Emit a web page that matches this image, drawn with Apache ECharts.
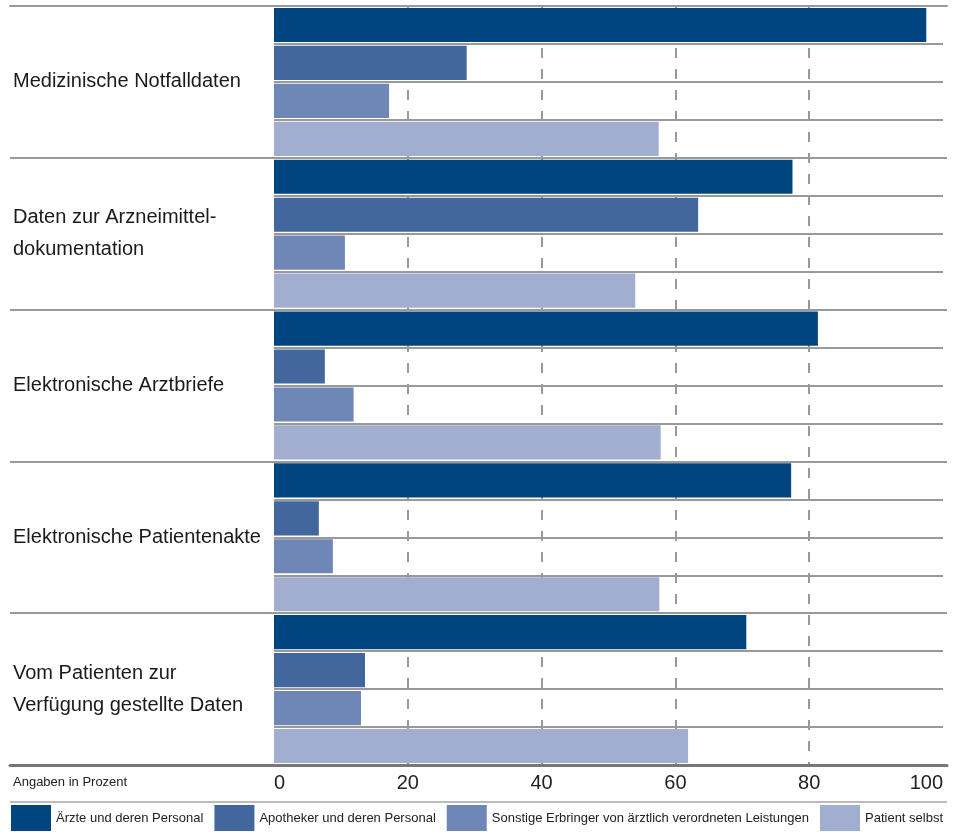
<!DOCTYPE html>
<html>
<head>
<meta charset="utf-8">
<script src="https://cdn.jsdelivr.net/npm/echarts@6/dist/echarts.min.js"></script>
<style>
html,body{margin:0;padding:0;background:#fff;}
#chart{width:963px;height:832px;}
</style>
</head>
<body>
<div id="chart"></div>
<script>
const categories = [
  'Medizinische Notfalldaten',
  'Daten zur Arzneimittel-\ndokumentation',
  'Elektronische Arztbriefe',
  'Elektronische Patientenakte',
  'Vom Patienten zur\nVerfügung gestellte Daten'
];
const seriesNames = [
  'Ärzte und deren Personal',
  'Apotheker und deren Personal',
  'Sonstige Erbringer von ärztlich verordneten Leistungen',
  'Patient selbst'
];
const aerzte    = [97.5, 77.5, 81.3, 77.3, 70.6];
const apotheker = [28.8, 63.4, 7.6, 6.7, 13.6];
const sonstige  = [17.2, 10.6, 11.9, 8.8, 13.0];
const patient   = [57.5, 54.0, 57.8, 57.6, 61.9];
const tickLabels = ['0', '20', '40', '60', '80', '100'];
const colors = ['#00457f', '#41679c', '#6f87b6', '#a2aed0'];

const FONT = '"Liberation Sans", Arial, sans-serif';
const allValues = [aerzte, apotheker, sonstige, patient];
const nS = allValues.length;
const rows = [];
categories.forEach((c, g) => { for (let s = 0; s < nS; s++) rows.push(g + '-' + s); });

const series = allValues.map((vals, s) => {
  const data = rows.map(() => '-');
  vals.forEach((v, g) => { data[g * nS + s] = v; });
  return {
    name: seriesNames[s], type: 'bar', xAxisIndex: 0, yAxisIndex: 0,
    data: data, barGap: '-100%', barCategoryGap: '10%',
    itemStyle: { color: colors[s] }, z: 3
  };
});

const chart = echarts.init(document.getElementById('chart'));
chart.setOption({
  animation: false,
  textStyle: { fontFamily: FONT },
  color: colors,
  title: {
    text: 'Angaben in Prozent', left: 13, top: 776, padding: 0,
    textStyle: { fontFamily: FONT, fontSize: 13, fontWeight: 'normal', color: '#222' }
  },
  legend: {
    data: seriesNames, left: 11, top: 805, padding: 0,
    icon: 'rect', itemWidth: 40, itemHeight: 26, itemGap: 11,
    textStyle: { fontFamily: FONT, fontSize: 13, color: '#222' },
    selectedMode: false
  },
  grid: [
    { left: 274, right: 20, top: 6, bottom: 67 },
    { left: 10, right: 16, top: 6, bottom: 67 }
  ],
  xAxis: [
    {
      gridIndex: 0, type: 'value', min: 0, max: 100, interval: 20,
      axisLine: { show: false }, axisTick: { show: false },
      axisLabel: {
        fontFamily: FONT, fontSize: 20, color: '#222', margin: 8,
        alignMinLabel: 'left', alignMaxLabel: 'right',
        formatter: (v) => tickLabels[Math.round(v / 20)]
      },
      splitLine: {
        show: true, showMinLine: false, showMaxLine: false,
        lineStyle: { color: '#999', width: 2, type: [10, 11] }
      }
    },
    {
      gridIndex: 1, type: 'value', position: 'bottom', min: 0, max: 1,
      axisLine: { show: true, lineStyle: { color: '#777', width: 3 } },
      axisTick: { show: false }, axisLabel: { show: false }, splitLine: { show: false }
    },
    {
      gridIndex: 1, type: 'value', position: 'top', min: 0, max: 1,
      axisLine: { show: true, lineStyle: { color: '#999', width: 2 } },
      axisTick: { show: false }, axisLabel: { show: false }, splitLine: { show: false }
    }
  ],
  yAxis: [
    {
      gridIndex: 0, type: 'category', data: rows, inverse: true,
      axisLine: { show: false }, axisTick: { show: false }, axisLabel: { show: false },
      splitLine: { show: true, lineStyle: { color: '#999', width: 2 } }
    },
    {
      gridIndex: 1, type: 'category', data: categories, inverse: true,
      axisLine: { show: false }, axisTick: { show: false },
      axisLabel: {
        inside: true, margin: 3, fontFamily: FONT, fontSize: 20,
        color: '#1a1a1a', lineHeight: 32, align: 'left'
      },
      splitLine: { show: true, lineStyle: { color: '#999', width: 2 } }
    }
  ],
  graphic: [
    { type: 'line', shape: { x1: 10, y1: 802, x2: 947, y2: 802 },
      style: { stroke: '#bbb', lineWidth: 2 } }
  ],
  series: series
});
</script>
</body>
</html>
